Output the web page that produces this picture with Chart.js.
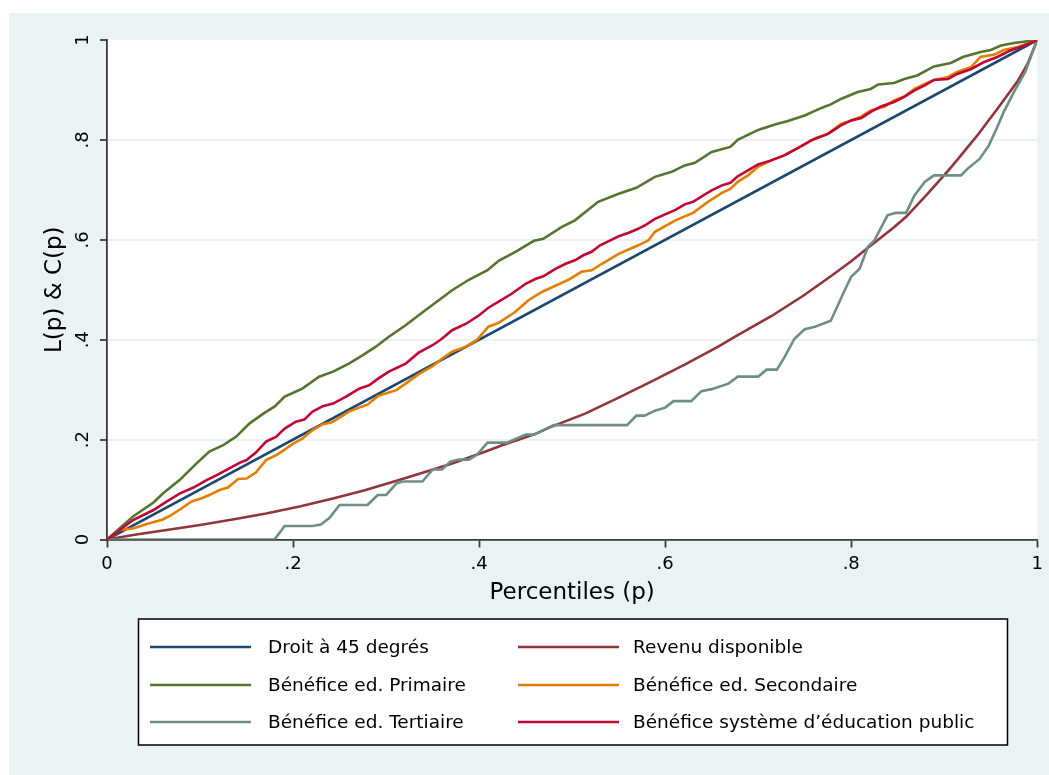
<!DOCTYPE html>
<html>
<head>
<meta charset="utf-8">
<script src="https://cdn.jsdelivr.net/npm/chart.js@4.4.1/dist/chart.umd.min.js"></script>
<style>
  html, body { margin: 0; padding: 0; background: #fff; }
  #c { display: block; }
</style>
</head>
<body>
<canvas id="c" width="1049" height="775"></canvas>
<script>
// series labels / colours (Stata s2color order)
const seriesLabels = [
  'Droit à 45 degrés',
  'Revenu disponible',
  'Bénéfice ed. Primaire',
  'Bénéfice ed. Secondaire',
  'Bénéfice ed. Tertiaire',
  'Bénéfice système d’éducation public',
];
const seriesColors = ['#1a476f', '#90353b', '#55752f', '#e37e00', '#6e8e84', '#c10534'];

const tickValues = [0, 0.2, 0.4, 0.6, 0.8, 1];
const xTickLabels = ['0', '.2', '.4', '.6', '.8', '1'];
const yTickLabels = ['0', '.2', '.4', '.6', '.8', '1'];

// Droit à 45 degrés
const diagP = [0, 1];
const diagV = [0, 1];

// Revenu disponible
const revenuP = [0, 0.028, 0.064, 0.100, 0.135, 0.171, 0.207, 0.243, 0.278, 0.314, 0.335, 0.371, 0.407, 0.424, 0.460, 0.478, 0.514, 0.550, 0.585, 0.621, 0.657, 0.678, 0.714, 0.750, 0.778, 0.800, 0.818, 0.829, 0.846, 0.859, 0.871, 0.882, 0.893, 0.904, 0.914, 0.925, 0.936, 0.946, 0.957, 0.968, 0.979, 0.989, 1];
const revenuV = [0, 0.009, 0.019, 0.029, 0.040, 0.052, 0.066, 0.082, 0.099, 0.119, 0.131, 0.152, 0.176, 0.188, 0.211, 0.226, 0.252, 0.284, 0.316, 0.350, 0.386, 0.409, 0.447, 0.490, 0.527, 0.557, 0.584, 0.600, 0.625, 0.646, 0.670, 0.692, 0.715, 0.738, 0.760, 0.785, 0.810, 0.835, 0.862, 0.890, 0.918, 0.950, 1];

// Bénéfice ed. Primaire
const primaireP = [0, 0.028, 0.050, 0.060, 0.078, 0.096, 0.110, 0.125, 0.139, 0.153, 0.168, 0.180, 0.191, 0.210, 0.228, 0.243, 0.260, 0.275, 0.289, 0.303, 0.321, 0.335, 0.371, 0.389, 0.409, 0.421, 0.439, 0.459, 0.469, 0.489, 0.503, 0.528, 0.550, 0.569, 0.589, 0.607, 0.621, 0.632, 0.650, 0.670, 0.678, 0.700, 0.718, 0.732, 0.750, 0.768, 0.778, 0.789, 0.807, 0.821, 0.829, 0.846, 0.857, 0.871, 0.889, 0.907, 0.920, 0.939, 0.950, 0.961, 0.975, 1];
const primaireV = [0, 0.046, 0.074, 0.092, 0.119, 0.152, 0.176, 0.189, 0.206, 0.232, 0.252, 0.266, 0.286, 0.302, 0.326, 0.336, 0.352, 0.369, 0.386, 0.406, 0.429, 0.449, 0.499, 0.520, 0.539, 0.558, 0.576, 0.598, 0.602, 0.626, 0.639, 0.676, 0.692, 0.704, 0.726, 0.736, 0.749, 0.754, 0.776, 0.786, 0.800, 0.820, 0.831, 0.838, 0.849, 0.864, 0.871, 0.882, 0.896, 0.902, 0.911, 0.914, 0.922, 0.929, 0.947, 0.954, 0.966, 0.976, 0.980, 0.989, 0.994, 1];

// Bénéfice ed. Secondaire
const secondaireP = [0, 0.014, 0.028, 0.043, 0.060, 0.069, 0.080, 0.091, 0.101, 0.110, 0.121, 0.130, 0.141, 0.150, 0.160, 0.171, 0.182, 0.191, 0.200, 0.210, 0.221, 0.232, 0.241, 0.250, 0.260, 0.271, 0.280, 0.291, 0.302, 0.311, 0.321, 0.335, 0.350, 0.360, 0.371, 0.386, 0.398, 0.410, 0.421, 0.439, 0.453, 0.468, 0.482, 0.496, 0.510, 0.521, 0.532, 0.550, 0.571, 0.582, 0.589, 0.611, 0.621, 0.630, 0.646, 0.661, 0.670, 0.678, 0.689, 0.700, 0.714, 0.728, 0.743, 0.762, 0.775, 0.789, 0.800, 0.811, 0.821, 0.836, 0.846, 0.857, 0.868, 0.879, 0.889, 0.904, 0.914, 0.929, 0.939, 0.954, 0.964, 0.979, 1];
const secondaireV = [0, 0.019, 0.022, 0.031, 0.040, 0.049, 0.062, 0.076, 0.082, 0.089, 0.099, 0.104, 0.121, 0.122, 0.134, 0.159, 0.169, 0.180, 0.192, 0.202, 0.219, 0.231, 0.234, 0.244, 0.256, 0.264, 0.270, 0.287, 0.294, 0.299, 0.312, 0.331, 0.347, 0.362, 0.376, 0.386, 0.400, 0.426, 0.434, 0.456, 0.479, 0.496, 0.508, 0.520, 0.536, 0.539, 0.552, 0.572, 0.589, 0.599, 0.616, 0.639, 0.647, 0.654, 0.676, 0.694, 0.702, 0.716, 0.729, 0.746, 0.759, 0.769, 0.784, 0.804, 0.812, 0.832, 0.839, 0.847, 0.859, 0.867, 0.879, 0.887, 0.902, 0.912, 0.920, 0.926, 0.936, 0.946, 0.966, 0.971, 0.980, 0.986, 1];

// Bénéfice ed. Tertiaire
const tertiaireP = [0, 0.180, 0.191, 0.221, 0.230, 0.239, 0.250, 0.280, 0.291, 0.300, 0.311, 0.318, 0.339, 0.350, 0.360, 0.369, 0.378, 0.389, 0.398, 0.409, 0.430, 0.450, 0.459, 0.480, 0.559, 0.569, 0.578, 0.589, 0.600, 0.609, 0.628, 0.639, 0.650, 0.668, 0.678, 0.700, 0.709, 0.720, 0.728, 0.739, 0.750, 0.761, 0.778, 0.793, 0.800, 0.809, 0.818, 0.825, 0.839, 0.848, 0.859, 0.868, 0.879, 0.889, 0.918, 0.925, 0.938, 0.948, 0.957, 0.964, 0.975, 0.987, 0.993, 1];
const tertiaireV = [0, 0, 0.027, 0.027, 0.030, 0.043, 0.069, 0.069, 0.089, 0.089, 0.112, 0.116, 0.116, 0.140, 0.140, 0.156, 0.160, 0.160, 0.170, 0.194, 0.194, 0.210, 0.210, 0.229, 0.229, 0.248, 0.248, 0.258, 0.264, 0.277, 0.277, 0.297, 0.301, 0.312, 0.326, 0.326, 0.340, 0.340, 0.364, 0.402, 0.421, 0.426, 0.438, 0.499, 0.526, 0.542, 0.586, 0.599, 0.649, 0.654, 0.654, 0.689, 0.716, 0.729, 0.729, 0.742, 0.762, 0.789, 0.826, 0.856, 0.896, 0.936, 0.966, 1];

// Bénéfice système d'éducation public
const publicP = [0, 0.028, 0.050, 0.064, 0.078, 0.093, 0.107, 0.118, 0.128, 0.143, 0.150, 0.160, 0.171, 0.182, 0.191, 0.203, 0.212, 0.221, 0.232, 0.243, 0.257, 0.271, 0.282, 0.293, 0.303, 0.321, 0.335, 0.350, 0.360, 0.371, 0.386, 0.400, 0.410, 0.421, 0.435, 0.450, 0.461, 0.469, 0.482, 0.493, 0.503, 0.512, 0.521, 0.530, 0.541, 0.550, 0.561, 0.571, 0.580, 0.589, 0.600, 0.611, 0.621, 0.630, 0.641, 0.650, 0.661, 0.670, 0.678, 0.689, 0.700, 0.714, 0.728, 0.743, 0.757, 0.775, 0.789, 0.800, 0.811, 0.821, 0.832, 0.846, 0.857, 0.868, 0.879, 0.889, 0.904, 0.914, 0.929, 0.943, 0.957, 0.971, 0.986, 1];
const publicV = [0, 0.039, 0.059, 0.076, 0.092, 0.104, 0.119, 0.129, 0.139, 0.154, 0.159, 0.174, 0.196, 0.206, 0.222, 0.236, 0.240, 0.256, 0.267, 0.272, 0.286, 0.302, 0.309, 0.324, 0.336, 0.352, 0.374, 0.389, 0.402, 0.419, 0.432, 0.449, 0.464, 0.476, 0.492, 0.512, 0.522, 0.527, 0.542, 0.552, 0.559, 0.569, 0.576, 0.589, 0.599, 0.607, 0.614, 0.622, 0.631, 0.642, 0.651, 0.660, 0.671, 0.676, 0.689, 0.699, 0.709, 0.714, 0.727, 0.739, 0.751, 0.759, 0.769, 0.784, 0.799, 0.812, 0.829, 0.839, 0.844, 0.856, 0.867, 0.876, 0.886, 0.899, 0.909, 0.920, 0.922, 0.932, 0.942, 0.956, 0.966, 0.979, 0.989, 1];

const seriesP = [diagP, revenuP, primaireP, secondaireP, tertiaireP, publicP];
const seriesV = [diagV, revenuV, primaireV, secondaireV, tertiaireV, publicV];

const FONT = 'DejaVu Sans';
const AXIS = '#3a3a3a';
const BG = '#eaf2f3';

const datasets = seriesLabels.map((label, i) => ({
  label,
  data: seriesP[i].map((p, k) => ({ x: p, y: seriesV[i][k] })),
  borderColor: seriesColors[i],
  borderWidth: 2.6,
  pointRadius: 0,
  tension: 0,
  fill: false,
  order: seriesLabels.length - i, // later series on top
}));

const background = {
  id: 'background',
  beforeDraw(chart) {
    const { ctx, chartArea: { left, top, width, height } } = chart;
    ctx.save();
    ctx.fillStyle = '#fff';
    ctx.fillRect(0, 0, chart.width, chart.height);
    ctx.fillStyle = BG;
    ctx.fillRect(9, 13, chart.width - 9, chart.height - 13);
    ctx.fillStyle = '#fff';
    ctx.fillRect(left, top, width, height);
    ctx.restore();
  },
};

// rotated y tick labels, Stata style
const yLabels = {
  id: 'yLabels',
  afterDraw(chart) {
    const { ctx } = chart;
    const y = chart.scales.y;
    ctx.save();
    ctx.fillStyle = '#000';
    ctx.font = '18px "' + FONT + '"';
    ctx.textAlign = 'center';
    ctx.textBaseline = 'alphabetic';
    tickValues.forEach((v, i) => {
      ctx.save();
      ctx.translate(88, y.getPixelForValue(v));
      ctx.rotate(-Math.PI / 2);
      ctx.fillText(yTickLabels[i], 0, 0);
      ctx.restore();
    });
    ctx.restore();
  },
};

// boxed two-column legend
const boxLegend = {
  id: 'boxLegend',
  afterDraw(chart) {
    const { ctx } = chart;
    ctx.save();
    ctx.fillStyle = '#fff';
    ctx.fillRect(138.5, 619, 869, 126);
    ctx.strokeStyle = '#000';
    ctx.lineWidth = 1.5;
    ctx.strokeRect(138.5, 619, 869, 126);

    const rows = [647, 685, 722];
    const lineX = [150, 518];
    const textX = [268, 633];
    ctx.font = '18.5px "' + FONT + '"';
    ctx.textAlign = 'left';
    ctx.textBaseline = 'middle';
    chart.data.datasets.forEach((ds, i) => {
      const col = i % 2;
      const row = Math.floor(i / 2);
      ctx.strokeStyle = ds.borderColor;
      ctx.lineWidth = 2.6;
      ctx.beginPath();
      ctx.moveTo(lineX[col], rows[row]);
      ctx.lineTo(lineX[col] + 101, rows[row]);
      ctx.stroke();
      ctx.fillStyle = '#000';
      ctx.fillText(ds.label, textX[col], rows[row] + 1);
    });
    ctx.restore();
  },
};

new Chart(document.getElementById('c'), {
  type: 'line',
  data: { datasets },
  options: {
    responsive: false,
    animation: false,
    devicePixelRatio: 1,
    layout: {
      padding: { left: 0, top: 40, right: 10.5, bottom: 165.5 },
    },
    plugins: {
      legend: { display: false },
      tooltip: { enabled: false },
    },
    scales: {
      x: {
        type: 'linear',
        min: 0,
        max: 1,
        afterBuildTicks(scale) {
          scale.ticks = tickValues.map((v) => ({ value: v }));
        },
        afterFit(scale) {
          scale.height = 70;
        },
        border: { display: true, color: AXIS, width: 1.8 },
        grid: {
          drawOnChartArea: false,
          drawTicks: true,
          tickLength: 8,
          tickColor: AXIS,
          tickWidth: 1.8,
        },
        ticks: {
          color: '#000',
          padding: 6,
          maxRotation: 0,
          font: { family: FONT, size: 18 },
          callback: (v, i) => xTickLabels[i],
        },
        title: {
          display: true,
          text: 'Percentiles (p)',
          color: '#000',
          font: { family: FONT, size: 23 },
          padding: { top: 0, bottom: 3 },
        },
      },
      y: {
        type: 'linear',
        min: 0,
        max: 1,
        afterBuildTicks(scale) {
          scale.ticks = tickValues.map((v) => ({ value: v }));
        },
        afterFit(scale) {
          scale.width = 107;
        },
        border: { display: true, color: AXIS, width: 1.8 },
        grid: {
          color: (c) => (c.tick && (c.tick.value === 0 || c.tick.value === 1) ? 'rgba(0,0,0,0)' : BG),
          lineWidth: 2,
          drawTicks: true,
          tickLength: 7,
          tickColor: AXIS,
          tickWidth: 1.8,
        },
        ticks: { display: false },
        title: {
          display: true,
          text: 'L(p) & C(p)',
          color: '#000',
          font: { family: FONT, size: 23 },
          padding: { top: 41, bottom: 0 },
        },
      },
    },
  },
  plugins: [background, yLabels, boxLegend],
});
</script>
</body>
</html>
